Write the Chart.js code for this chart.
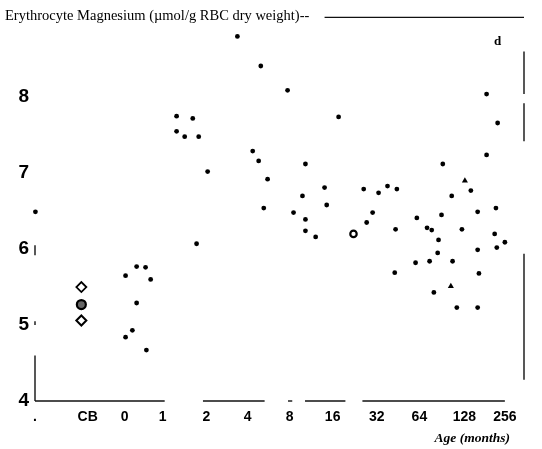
<!DOCTYPE html>
<html>
<head>
<meta charset="utf-8">
<script src="https://cdn.jsdelivr.net/npm/chart.js@4.4.1/dist/chart.umd.min.js"></script>
<style>
  html, body { margin: 0; padding: 0; background: #fff; }
</style>
</head>
<body>
<canvas id="mgChart" width="542" height="449"></canvas>
<script>
  'use strict'

  // x is the position on the log2 age axis (1 month = 0, 2 = 1, ... 256 = 8)
  var xTickPos = [-3, -1.76, -0.89, 0, 1.03, 2, 2.99, 4, 5.04, 6.04, 7.1, 8.05];
  var xTickLabels = ['.', 'CB', '0', '1', '2', '4', '8', '16', '32', '64', '128', '256'];
  var yTicks = [4, 5, 6, 7, 8];

  // individual subjects (small filled dots)
  var dotX = [1.76, 2.31, 2.94, 0.33, 0.71, 0.33, 0.52, 0.85, 2.12, 2.26, 1.06, 2.47, 2.38, 0.80,
              4.14, 7.62, 7.88, 3.36, 6.59, 7.62, 7.25, 3.29, 3.81, 4.73, 5.08, 5.29, 5.51, 6.80,
              3.08, 3.86, 3.36, 4.94, 5.98, 6.56, 7.41, 7.84, 3.36, 3.60, 4.80, 5.48, 6.22, 6.33,
              7.04, 7.81, 6.49, 8.05, 7.86, 7.41, 6.47, 5.95, 6.28, 6.82, 5.46, 7.44, 6.38, 6.92,
              7.41, -0.61, -0.40, -0.87, -0.28, -0.61, -0.87, -0.71, -0.38, -2.99];
  var dotY = [8.80, 8.41, 8.09, 7.75, 7.72, 7.55, 7.48, 7.48, 7.29, 7.16, 7.02, 6.92, 6.54, 6.07,
              7.74, 8.04, 7.66, 7.12, 7.12, 7.24, 6.77, 6.70, 6.81, 6.79, 6.74, 6.83, 6.79, 6.70,
              6.48, 6.58, 6.39, 6.48, 6.41, 6.45, 6.49, 6.54, 6.24, 6.16, 6.35, 6.26, 6.28, 6.25,
              6.26, 6.20, 6.12, 6.09, 6.02, 5.99, 5.95, 5.82, 5.84, 5.84, 5.69, 5.68, 5.43, 5.23,
              5.23, 5.77, 5.76, 5.65, 5.60, 5.29, 4.84, 4.93, 4.67, 6.49];

  var triX = [7.11, 6.78];
  var triY = [6.90, 5.51];
  var ringX = [4.49];
  var ringY = [6.20];

  // cord blood (CB) markers
  var cbX = -1.91;
  var cbDiamondY = 5.06;
  var cbCircleY = 5.27;
  var cbUpperY = 5.50;

  // broken axis pieces, in data units
  var bottomAxisPieces = [[-3, 0.05], [0.95, 2.4], [2.95, 3.05], [3.35, 4.3], [4.7, 8.05]];
  var leftAxisPieces = [[4, 4.6], [5.0, 5.05], [5.92, 6.05]];
  var rightAxisPieces = [[8.04, 8.6], [7.42, 7.92], [4.28, 5.94]];
  var topLineFrom = 3.81;

  function pts(xs, ys) {
    return xs.map(function (v, i) { return { x: v, y: ys[i] }; });
  }

  var framePlugin = {
    id: 'framePlugin',
    afterDraw: function (chart) {
      var ctx = chart.ctx, a = chart.chartArea, sx = chart.scales.x, sy = chart.scales.y;
      ctx.save();
      ctx.strokeStyle = '#111';
      ctx.lineWidth = 1.4;
      function seg(x0, y0, x1, y1) {
        ctx.beginPath(); ctx.moveTo(x0, y0); ctx.lineTo(x1, y1); ctx.stroke();
      }
      bottomAxisPieces.forEach(function (p) {
        seg(sx.getPixelForValue(p[0]), a.bottom, sx.getPixelForValue(p[1]), a.bottom);
      });
      leftAxisPieces.forEach(function (p) {
        seg(a.left, sy.getPixelForValue(p[0]), a.left, sy.getPixelForValue(p[1]));
      });
      rightAxisPieces.forEach(function (p) {
        seg(a.right, sy.getPixelForValue(p[0]), a.right, sy.getPixelForValue(p[1]));
      });
      seg(sx.getPixelForValue(topLineFrom), a.top, a.right, a.top);

      ctx.fillStyle = '#000';
      ctx.textBaseline = 'alphabetic';
      ctx.textAlign = 'left';
      ctx.font = '14.5px "Liberation Serif"';
      ctx.fillText('Erythrocyte Magnesium (\u00b5mol/g RBC dry weight)--', 5, 20);
      ctx.font = 'bold 13px "Liberation Serif"';
      ctx.fillText('d', 494, 45);
      ctx.textAlign = 'right';
      ctx.font = 'bold italic 13.5px "Liberation Serif"';
      ctx.fillText('Age (months)', 510, 442);
      ctx.restore();
    }
  };

  var ctx = document.getElementById('mgChart').getContext('2d');
  var mgChart = new Chart(ctx, {
    type: 'scatter',
    data: {
      datasets: [
        { label: 'subjects', data: pts(dotX, dotY), pointStyle: 'circle', pointRadius: 2.4,
          backgroundColor: '#000', borderWidth: 0, clip: false },
        { label: 'tri', data: pts(triX, triY), pointStyle: 'triangle', pointRadius: 3.5,
          backgroundColor: '#000', borderWidth: 0, clip: false },
        { label: 'ring', data: pts(ringX, ringY), pointStyle: 'circle', pointRadius: 3.2,
          backgroundColor: '#fff', borderColor: '#000', borderWidth: 2.2 },
        { label: 'CB low', data: [{ x: cbX, y: cbDiamondY }], pointStyle: 'rectRot', pointRadius: 5,
          backgroundColor: '#fff', borderColor: '#000', borderWidth: 2 },
        { label: 'CB mid', data: [{ x: cbX, y: cbCircleY }], pointStyle: 'circle', pointRadius: 4.5,
          backgroundColor: '#666', borderColor: '#000', borderWidth: 2.2 },
        { label: 'CB high', data: [{ x: cbX, y: cbUpperY }], pointStyle: 'rectRot', pointRadius: 5,
          backgroundColor: '#fff', borderColor: '#000', borderWidth: 1.8 }
      ]
    },
    options: {
      responsive: false,
      animation: false,
      layout: { padding: { top: 16, right: 18, left: 0, bottom: 0 } },
      plugins: { legend: { display: false }, tooltip: { enabled: false } },
      scales: {
        x: {
          type: 'linear', min: -3, max: 8.5,
          grid: { display: false, drawTicks: false },
          border: { display: false },
          afterBuildTicks: function (scale) {
            scale.ticks = xTickPos.map(function (v) { return { value: v }; });
          },
          afterFit: function (scale) { scale.height = 48; },
          ticks: {
            autoSkip: false, maxRotation: 0, padding: 8, color: '#000',
            font: { family: '"Liberation Sans"', size: 14, weight: 'bold' },
            callback: function (v, i) { return xTickLabels[i]; }
          }
        },
        y: {
          type: 'linear', min: 4, max: 9.05,
          grid: { display: false, drawTicks: false },
          border: { display: false },
          afterBuildTicks: function (scale) {
            scale.ticks = yTicks.map(function (v) { return { value: v }; });
          },
          afterFit: function (scale) { scale.width = 35; },
          ticks: {
            padding: 6, color: '#000',
            font: { family: '"Liberation Sans"', size: 19, weight: 'bold' }
          }
        }
      }
    },
    plugins: [framePlugin]
  });
</script>
</body>
</html>
